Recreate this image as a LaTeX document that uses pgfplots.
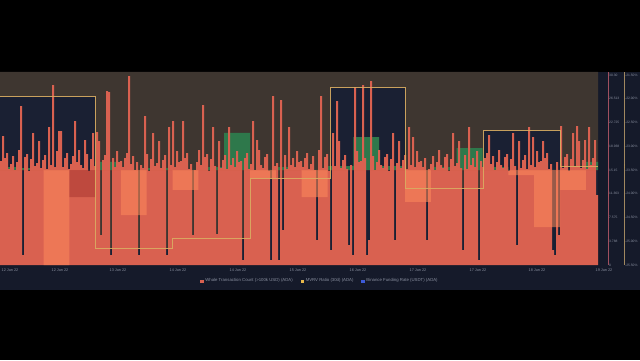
\documentclass[border=0pt]{standalone}
\usepackage{pgfplots}
\pgfplotsset{compat=1.18}
\usepackage{pgfplotstable}
\usepackage{fontspec}
\setmainfont{Liberation Sans}

\definecolor{panel}{HTML}{151A2A}
\definecolor{plotbg}{HTML}{3E3630}
\definecolor{navybox}{HTML}{1A2033}
\definecolor{fundgreen}{HTML}{2E784B}
\definecolor{whalered}{HTML}{D96150}
\definecolor{fundlight}{HTML}{FF8A5C}
\definecolor{funddark}{HTML}{8C1E1E}
\definecolor{mvrvline}{HTML}{D9AD62}
\definecolor{pinkline}{HTML}{A05060}
\definecolor{tanline}{HTML}{A08860}
\definecolor{labelgray}{HTML}{8A90A0}
\definecolor{fundblue}{HTML}{3D5BD9}
\definecolor{tagyellow}{HTML}{E8B84A}

\pgfplotsset{
  plotarea/.style={at={(0pt,95pt)}, anchor=south west, width=598pt, height=193pt,
    scale only axis, xmin=0, xmax=598, hide axis, clip=true},
  tickaxis/.style={anchor=south west, width=5pt, height=193pt, scale only axis,
    xmin=0, xmax=1, axis x line=none, axis y line*=right, major tick length=0pt,
    yticklabel style={font=\fontsize{3.3}{4}\selectfont, text=labelgray, inner sep=1pt}},
}

% MVRV ratio (30d), %, daily steps
\pgfplotstableread{
x mvrv
0 -21.96
95 -25.14
172.5 -24.93
250 -23.67
330 -21.77
405 -23.88
483 -22.66
560 -23.42
598 -23.42
}\mvrvtable

% Binance funding rate (%), 8h intervals
\pgfplotstableread{
x pos neg dark
0 0.0006 0 0
17.7 0.0004 0 0
43.5 0 -0.02 0
69.3 0 0 -0.0057
95 0.0017 0 0
120.8 0 -0.0095 0
146.7 0.0004 0 0
172.5 0 -0.0042 0
198.3 0.0006 0 0
224.2 0.0078 0 0
250 0 -0.0017 0
275.8 0.0006 0 0
301.7 0 -0.0057 0
327.5 0.0008 0 0
353.3 0.0069 0 0
379.2 0.0008 0 0
405 0 -0.0067 0
430.8 0.0006 0 0
456.7 0.0046 0 0
482.5 0.0006 0 0
508.3 0 -0.0011 0
534.2 0 -0.012 0
560 0 -0.0042 0
585.8 0.0017 0 0
598 0 0 0
}\fundtable

% Whale transaction count
\pgfplotstableread[row sep=\\]{
w\\
104\\129\\107\\112\\96\\101\\109\\95\\103\\115\\
159\\10\\108\\111\\94\\106\\132\\99\\102\\124\\
97\\105\\110\\96\\138\\100\\180\\98\\114\\134\\
134\\98\\107\\112\\96\\101\\109\\144\\103\\115\\
100\\97\\125\\111\\94\\106\\132\\99\\133\\124\\
30\\105\\110\\174\\173\\10\\107\\98\\114\\103\\
104\\98\\107\\112\\189\\101\\109\\95\\103\\10\\
100\\97\\149\\111\\94\\106\\132\\99\\102\\124\\
97\\105\\110\\10\\138\\100\\144\\98\\114\\103\\
104\\144\\107\\112\\96\\101\\30\\95\\103\\115\\
100\\160\\108\\111\\94\\106\\138\\99\\31\\124\\
97\\105\\110\\96\\138\\100\\107\\98\\114\\103\\
104\\5\\107\\112\\96\\101\\144\\95\\125\\115\\
100\\97\\108\\111\\94\\5\\169\\99\\102\\5\\
165\\35\\110\\96\\138\\100\\107\\98\\114\\103\\
104\\98\\107\\112\\96\\101\\109\\95\\25\\115\\
169\\97\\108\\111\\94\\15\\132\\99\\164\\124\\
97\\105\\110\\96\\20\\100\\10\\178\\114\\103\\
104\\180\\107\\10\\25\\184\\109\\95\\103\\115\\
100\\97\\108\\111\\94\\106\\132\\25\\102\\124\\
97\\105\\110\\96\\138\\100\\128\\98\\114\\103\\
104\\98\\107\\25\\96\\101\\109\\95\\103\\115\\
100\\97\\108\\111\\94\\106\\132\\99\\102\\124\\
97\\15\\110\\96\\138\\100\\107\\98\\114\\5\\
104\\98\\107\\112\\130\\101\\109\\95\\103\\115\\
100\\97\\108\\111\\94\\106\\132\\99\\20\\124\\
97\\105\\110\\96\\138\\100\\128\\98\\114\\103\\
104\\124\\107\\112\\96\\101\\15\\10\\103\\30\\
139\\97\\108\\111\\94\\106\\132\\99\\139\\124\\
97\\105\\125\\96\\138\\100\\107\\125\\70\\
}\whaletable

\begin{document}
\begin{tikzpicture}
\useasboundingbox (0pt,0pt) rectangle (640pt,360pt);
\fill[black] (0pt,0pt) rectangle (640pt,360pt);
\fill[panel] (0pt,70pt) rectangle (640pt,95pt);
\fill[panel] (598pt,70pt) rectangle (640pt,288pt);
\fill[navybox] (0pt,95pt) rectangle (598pt,288pt);

% MVRV area: background above the MVRV step (bars run from the value up to the top)
\begin{axis}[plotarea, ymin=-25.5, ymax=-21.436842]
\addplot[ybar interval, fill=plotbg, draw=none] table[x=x,y=mvrv]{\mvrvtable};
\end{axis}

% funding rate, positive
\begin{axis}[plotarea, ymin=-0.02, ymax=0.0206316]
\addplot[ybar interval, fill=fundgreen, draw=none] table[x=x,y=pos]{\fundtable};
\end{axis}

% whale transaction count
\begin{axis}[plotarea, ymin=0, ymax=193]
\addplot[ybar, bar width=2, bar shift=0pt, fill=whalered, draw=none]
  table[x expr=\coordindex*2+1, y=w]{\whaletable};
\end{axis}

% funding rate, negative
\begin{axis}[plotarea, ymin=-0.02, ymax=0.0206316]
\addplot[ybar interval, fill=fundlight, fill opacity=0.55, draw=none] table[x=x,y=neg]{\fundtable};
\addplot[ybar interval, fill=funddark, fill opacity=0.35, draw=none] table[x=x,y=dark]{\fundtable};
\end{axis}

% MVRV line
\begin{axis}[plotarea, ymin=-25.5, ymax=-21.436842]
\addplot[const plot, draw=mvrvline, line width=0.7pt, opacity=0.9] table[x=x,y=mvrv]{\mvrvtable};
\end{axis}

% whale axis labels
\begin{axis}[tickaxis, at={(603pt,95pt)}, ymin=0, ymax=193,
  y axis line style={draw=pinkline, line width=0.5pt},
  ytick={0,23.75,47.5,71.25,95,118.75,142.5,166.25,190},
  yticklabels={0,3.788,7.575,11.363,15.15,18.938,22.725,26.513,30.30}]
\node[fill=whalered, minimum width=5pt, minimum height=4pt, inner sep=0pt, anchor=west] at (axis cs:1,70) {};
\end{axis}

% MVRV axis labels
\begin{axis}[tickaxis, at={(619pt,95pt)}, ymin=-25.5, ymax=-21.436842,
  y axis line style={draw=tanline, line width=0.5pt},
  ytick={-25.5,-25,-24.5,-24,-23.5,-23,-22.5,-22,-21.5},
  yticklabels={-25.50\%,-25.00\%,-24.50\%,-24.00\%,-23.50\%,-23.00\%,-22.50\%,-22.00\%,-21.50\%}]
\node[fill=tagyellow, inner sep=0.7pt, anchor=west, font=\fontsize{3.3}{4}\selectfont, text=black] at (axis cs:1,-23.42) {-23.42\%};
\end{axis}

% x labels and legend
\begin{axis}[at={(0pt,95pt)}, anchor=south west, width=640pt, height=193pt, scale only axis,
  xmin=0, xmax=640, ymin=0, ymax=1, axis y line=none, axis x line*=bottom,
  x axis line style={draw=none}, major tick length=0pt,
  xtick={10,60,118,178,238,298,358,418,478,537,604},
  xticklabels={12 Jun 22,12 Jun 22,13 Jun 22,14 Jun 22,14 Jun 22,15 Jun 22,16 Jun 22,17 Jun 22,17 Jun 22,18 Jun 22,19 Jun 22},
  xticklabel style={font=\fontsize{3.8}{4}\selectfont, text=labelgray},
  legend style={at={(rel axis cs:0.5,-0.0829)}, anchor=center, draw=none, fill=none,
    legend columns=3, font=\fontsize{4.3}{5}\selectfont, text=labelgray,
    /tikz/every even column/.append style={column sep=6pt}},
  legend cell align=left]
\addlegendimage{legend image code/.code={\fill[whalered] (0pt,-1.3pt) rectangle (2.6pt,1.3pt);}}
\addlegendentry{Whale Transaction Count (>100k USD) (ADA)}
\addlegendimage{legend image code/.code={\fill[tagyellow] (0pt,-1.3pt) rectangle (2.6pt,1.3pt);}}
\addlegendentry{MVRV Ratio (30d) (ADA)}
\addlegendimage{legend image code/.code={\fill[fundblue] (0pt,-1.3pt) rectangle (2.6pt,1.3pt);}}
\addlegendentry{Binance Funding Rate (USDT) (ADA)}
\end{axis}
\end{tikzpicture}
\end{document}
